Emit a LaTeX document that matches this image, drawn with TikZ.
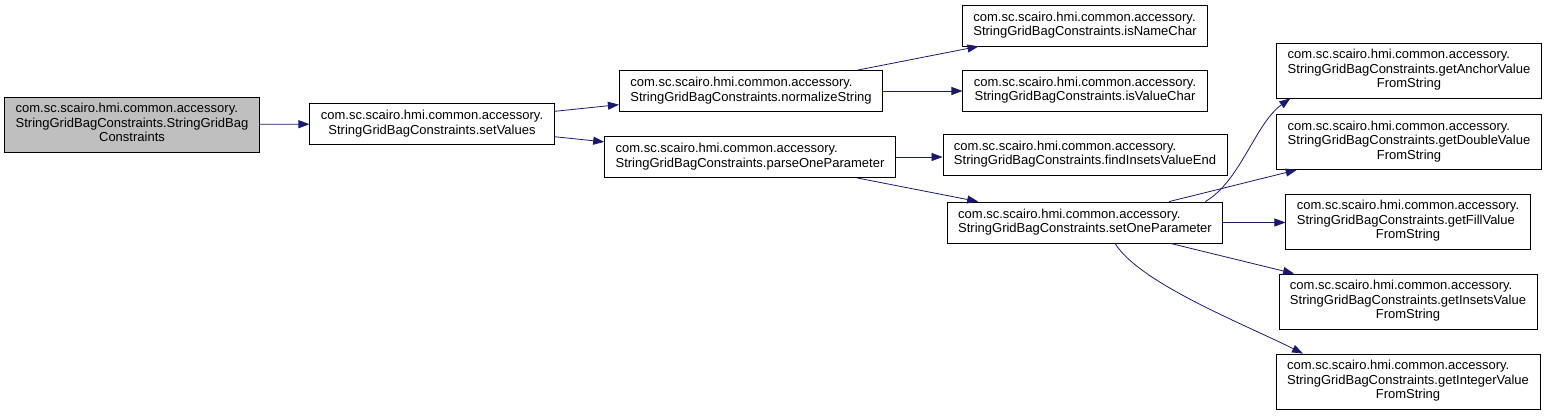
\documentclass[tikz,border=0pt]{standalone}
\usepackage{fontspec}
\setmainfont{Liberation Sans}
\usepackage{tikz}
\usetikzlibrary{arrows.meta}
\definecolor{CallBlue}{HTML}{191970}
\definecolor{RootGray}{HTML}{BFBFBF}
\newcommand{\pkgline}{com.sc.scairo.hmi.common.accessory.}
\newcommand{\twoline}[2]{\begin{tabular}{@{}l@{}}#1\\\multicolumn{1}{@{}c@{}}{#2}\end{tabular}}
\newcommand{\threeline}[3]{\begin{tabular}{@{}l@{}}#1\\#2\\\multicolumn{1}{@{}c@{}}{#3}\end{tabular}}
\tikzset{
  fn/.style={draw=black, line width=0.8pt, fill=white,
    font=\fontsize{13}{14.5}\selectfont, inner xsep=11pt, inner ysep=5pt,
    minimum height=41pt},
  fnlong/.style={fn, minimum height=55pt, inner ysep=3pt},
  call/.style={draw=CallBlue, line width=0.8pt,
    -{Triangle[length=11pt,width=8pt]}}
}

\begin{document}
\begin{tikzpicture}[x=1pt, y=-1pt]
    \useasboundingbox (0,0) rectangle (1547,415);
    % Caller
    \node[fnlong, fill=RootGray] (root) at (132,124.5)
      {\threeline{\pkgline}{StringGridBagConstraints.StringGridBag}{Constraints}};
    \node[fn] (setval) at (432,124)
      {\twoline{\pkgline}{StringGridBagConstraints.setValues}};
    % Second level
    \node[fn] (normstr) at (751,91)
      {\twoline{\pkgline}{StringGridBagConstraints.normalizeString}};
    \node[fn] (parseone) at (750,157)
      {\twoline{\pkgline}{StringGridBagConstraints.parseOneParameter}};
    % Third level
    \node[fn] (isname) at (1085,25.5)
      {\twoline{\pkgline}{StringGridBagConstraints.isNameChar}};
    \node[fn] (isvalue) at (1085,90.5)
      {\twoline{\pkgline}{StringGridBagConstraints.isValueChar}};
    \node[fn] (findins) at (1085,154.5)
      {\twoline{\pkgline}{StringGridBagConstraints.findInsetsValueEnd}};
    \node[fn] (setone) at (1085,222.5)
      {\twoline{\pkgline}{StringGridBagConstraints.setOneParameter}};
    % Value parsers
    \node[fnlong] (getanchor) at (1409,70.5)
      {\threeline{\pkgline}{StringGridBagConstraints.getAnchorValue}{FromString}};
    \node[fnlong] (getdouble) at (1409,142)
      {\threeline{\pkgline}{StringGridBagConstraints.getDoubleValue}{FromString}};
    \node[fnlong] (getfill) at (1408,221.5)
      {\threeline{\pkgline}{StringGridBagConstraints.getFillValue}{FromString}};
    \node[fnlong] (getinsets) at (1408,301.5)
      {\threeline{\pkgline}{StringGridBagConstraints.getInsetsValue}{FromString}};
    \node[fnlong] (getinteger) at (1408,381.5)
      {\threeline{\pkgline}{StringGridBagConstraints.getIntegerValue}{FromString}};
    % Calls
    \draw[call] (root) -- (setval);
    \draw[call] (setval) -- (normstr);
    \draw[call] (setval) -- (parseone);
    \draw[call] (normstr) -- (isname);
    \draw[call] (normstr.east) -- (normstr.east -| isvalue.west);
    \draw[call] (parseone.east) -- (parseone.east -| findins.west);
    \draw[call] (parseone) -- (setone);
    \draw[call] ([xshift=-18pt]setone.north east)
      .. controls +(35,-20) and +(-35,25) .. ([xshift=14pt]getanchor.south west);
    \foreach \callee in {getdouble,getinsets}
      \draw[call] (setone) -- (\callee);
    \draw[call] (setone.east) -- (setone.east -| getfill.west);
    \draw[call] ([xshift=30pt]setone.south)
      .. controls +(25,40) and +(-60,-30) .. ([xshift=-105pt]getinteger.north);
\end{tikzpicture}
\end{document}
